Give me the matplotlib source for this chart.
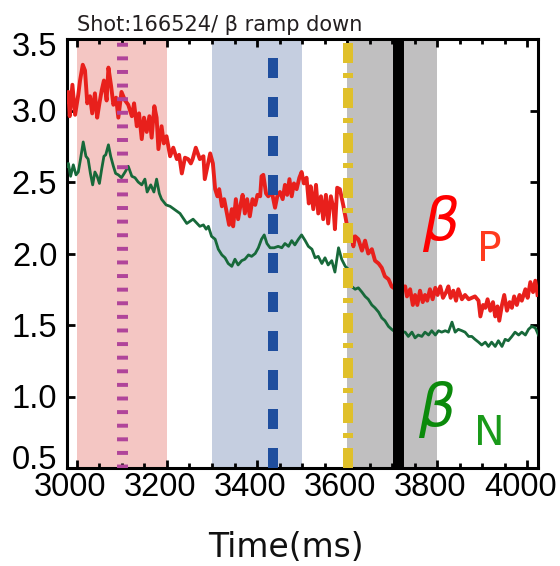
import matplotlib
matplotlib.use('Agg')
import matplotlib.pyplot as plt
from matplotlib.ticker import MultipleLocator
from matplotlib.transforms import ScaledTranslation

# beta_P trace (time in ms, value)
red_t = [2978, 2981, 2984, 2990, 2996, 3003, 3007, 3013, 3018, 3023, 3029, 3034,
         3040, 3045, 3050, 3055, 3060, 3066, 3070, 3076, 3081, 3087, 3092, 3099,
         3107, 3114, 3122, 3127, 3133, 3138, 3144, 3149, 3155, 3161, 3166, 3172,
         3177, 3181, 3188, 3193, 3199, 3207, 3214, 3222, 3227, 3233, 3240, 3247,
         3253, 3257, 3264, 3273, 3281, 3284, 3290, 3296, 3302, 3307, 3312, 3316,
         3322, 3327, 3333, 3338, 3344, 3347, 3353, 3358, 3364, 3368, 3373, 3378,
         3384, 3390, 3396, 3401, 3407, 3410, 3414, 3420, 3425, 3433, 3440, 3445,
         3451, 3457, 3462, 3467, 3472, 3477, 3482, 3488, 3494, 3499, 3504, 3510,
         3515, 3519, 3525, 3531, 3536, 3542, 3547, 3553, 3558, 3564, 3570, 3573,
         3578, 3584, 3592, 3599, 3607, 3614, 3618, 3625, 3633, 3640, 3647, 3655,
         3662, 3670, 3677, 3684, 3692, 3699, 3703, 3729, 3733, 3740, 3746, 3751,
         3756, 3762, 3768, 3773, 3778, 3784, 3790, 3796, 3801, 3807, 3813, 3820,
         3825, 3830, 3836, 3842, 3847, 3855, 3862, 3870, 3877, 3884, 3892, 3896,
         3902, 3907, 3912, 3918, 3924, 3929, 3934, 3938, 3944, 3949, 3955, 3961,
         3966, 3971, 3977, 3983, 3988, 3996, 4001, 4007, 4013, 4018, 4023]
red_v = [3.06, 3.13, 2.96, 3.18, 2.97, 3.11, 3.21, 3.32, 3.28, 3.05, 3.10, 2.98,
         3.12, 2.95, 3.05, 3.14, 3.21, 3.07, 3.30, 3.17, 3.04, 3.09, 2.95, 3.13,
         3.07, 3.04, 2.96, 3.05, 2.89, 2.98, 2.80, 2.95, 2.85, 2.96, 2.81, 3.03,
         2.95, 2.73, 2.89, 2.77, 2.82, 2.68, 2.74, 2.66, 2.69, 2.56, 2.67, 2.66,
         2.63, 2.66, 2.74, 2.66, 2.68, 2.52, 2.61, 2.70, 2.63, 2.45, 2.40, 2.45,
         2.33, 2.38, 2.28, 2.20, 2.31, 2.19, 2.38, 2.24, 2.35, 2.41, 2.28, 2.38,
         2.26, 2.38, 2.34, 2.41, 2.40, 2.54, 2.55, 2.42, 2.40, 2.43, 2.32, 2.40,
         2.43, 2.38, 2.48, 2.41, 2.52, 2.40, 2.49, 2.45, 2.53, 2.57, 2.49, 2.53,
         2.35, 2.47, 2.31, 2.48, 2.28, 2.40, 2.24, 2.41, 2.21, 2.40, 2.31, 2.17,
         2.46, 2.45, 2.33, 2.21, 2.17, 2.05, 2.12, 2.10, 2.02, 2.09, 2.00, 2.03,
         1.95, 1.93, 1.90, 1.84, 1.82, 1.77, 1.76, 1.77, 1.70, 1.75, 1.64, 1.71,
         1.64, 1.74, 1.66, 1.71, 1.67, 1.75, 1.68, 1.76, 1.71, 1.77, 1.69, 1.73,
         1.77, 1.69, 1.74, 1.67, 1.75, 1.68, 1.71, 1.68, 1.69, 1.70, 1.67, 1.56,
         1.64, 1.62, 1.68, 1.60, 1.66, 1.56, 1.63, 1.53, 1.64, 1.71, 1.60, 1.66,
         1.62, 1.70, 1.64, 1.71, 1.67, 1.75, 1.69, 1.80, 1.73, 1.81, 1.71]

# beta_N trace
green_t = [2978, 2981, 2986, 2992, 2998, 3003, 3008, 3014, 3020, 3025, 3030, 3035,
           3040, 3045, 3050, 3055, 3060, 3064, 3070, 3075, 3081, 3086, 3092, 3099,
           3107, 3114, 3122, 3129, 3136, 3144, 3151, 3156, 3164, 3171, 3177, 3183,
           3188, 3198, 3207, 3229, 3244, 3258, 3273, 3281, 3287, 3292, 3299, 3307,
           3314, 3322, 3329, 3336, 3344, 3351, 3358, 3366, 3373, 3381, 3388, 3396,
           3403, 3410, 3416, 3422, 3429, 3438, 3447, 3455, 3462, 3470, 3477, 3484,
           3492, 3499, 3507, 3514, 3522, 3529, 3536, 3544, 3551, 3558, 3566, 3573,
           3581, 3588, 3596, 3603, 3610, 3618, 3625, 3633, 3640, 3647, 3655, 3662,
           3670, 3677, 3684, 3692, 3699, 3703, 3729, 3736, 3744, 3751, 3758, 3766,
           3773, 3781, 3788, 3796, 3803, 3810, 3818, 3825, 3833, 3840, 3847, 3855,
           3862, 3870, 3877, 3884, 3892, 3899, 3907, 3914, 3921, 3929, 3936, 3944,
           3951, 3958, 3966, 3973, 3981, 3988, 3996, 4003, 4010, 4018, 4025]
green_v = [2.61, 2.63, 2.54, 2.62, 2.55, 2.57, 2.66, 2.78, 2.68, 2.66, 2.56, 2.48,
           2.57, 2.54, 2.49, 2.59, 2.68, 2.69, 2.76, 2.68, 2.61, 2.56, 2.55, 2.53,
           2.57, 2.61, 2.54, 2.53, 2.50, 2.48, 2.52, 2.43, 2.48, 2.43, 2.52, 2.42,
           2.38, 2.34, 2.33, 2.28, 2.21, 2.24, 2.19, 2.20, 2.17, 2.19, 2.12, 2.10,
           2.03, 1.99, 1.97, 1.93, 1.91, 1.96, 1.92, 1.95, 1.96, 1.99, 1.98, 2.00,
           2.04, 2.10, 2.13, 2.07, 2.04, 2.04, 2.05, 2.04, 2.07, 2.05, 2.09, 2.06,
           2.10, 2.13, 2.09, 2.05, 2.03, 1.97, 1.98, 1.93, 1.97, 1.92, 1.95, 1.87,
           2.04, 1.96, 1.91, 1.89, 1.77, 1.75, 1.76, 1.73, 1.70, 1.68, 1.64, 1.62,
           1.59, 1.55, 1.53, 1.49, 1.47, 1.46, 1.45, 1.42, 1.45, 1.41, 1.43, 1.42,
           1.45, 1.43, 1.46, 1.43, 1.46, 1.45, 1.46, 1.45, 1.52, 1.45, 1.47, 1.46,
           1.45, 1.42, 1.42, 1.40, 1.38, 1.36, 1.38, 1.35, 1.38, 1.35, 1.39, 1.35,
           1.40, 1.39, 1.42, 1.45, 1.43, 1.45, 1.43, 1.47, 1.49, 1.48, 1.43]

# shaded time windows and event markers (ms)
span_starts = [3000, 3300, 3600]
span_ends = [3200, 3500, 3800]
span_colors = ['#F4C6C3', '#C5CEE0', '#C0BFC0']
event_times = [3100, 3435, 3602, 3714]

title_text = 'Shot:166524/ \u03b2 ramp down'
tick_font = ['Liberation Sans', 'DejaVu Sans']

W, H = 560, 566
fig = plt.figure(figsize=(W / 100, H / 100), dpi=100)
ax = fig.add_axes([67 / W, 1 - 468 / H, (538 - 67) / W, (468 - 39) / H])

for x0, x1, c in zip(span_starts, span_ends, span_colors):
    ax.axvspan(x0, x1, color=c, lw=0, zorder=0)

ax.plot(red_t, red_v, color='#E8201C', lw=2.8, zorder=3)
ax.plot(green_t, green_v, color='#17693A', lw=2.0, zorder=3)

ax.axvline(event_times[0], color='#B0449A', lw=7.9,
           linestyle=(0, (0.36, 0.88)), dash_capstyle='butt', zorder=4)
ax.axvline(event_times[1], color='#1F4E9E', lw=7.2,
           linestyle=(0, (2.0, 1.9)), dash_capstyle='butt', zorder=4)
ax.axvline(event_times[2], color='#E0C02A', lw=7.2,
           linestyle=(0, (2.0, 1.0, 0.5, 1.0)), dash_capstyle='butt', zorder=4)
ax.axvline(event_times[3], color='black', lw=7.9, zorder=5)

ax.set_xlim(2978, 4024)
ax.set_ylim(0.5, 3.5)
ax.xaxis.set_major_locator(MultipleLocator(200))
ax.xaxis.set_minor_locator(MultipleLocator(50))
ax.yaxis.set_major_locator(MultipleLocator(0.5))
ax.yaxis.set_major_formatter(plt.FormatStrFormatter('%.1f'))
ax.tick_params(which='both', direction='in', top=True, right=True, width=2)
ax.tick_params(which='major', length=5.8, labelsize=23.5)
ax.tick_params(which='minor', length=3.6)
ax.tick_params(axis='x', pad=3)
ax.tick_params(axis='y', pad=7)
for sp in ax.spines.values():
    sp.set_linewidth(2.2)

# tick label font and the small offsets seen in the reference
xshift = ScaledTranslation(-7 / 100, 0, fig.dpi_scale_trans)
for lab in ax.get_xticklabels():
    lab.set_family(tick_font)
    lab.set_transform(lab.get_transform() + xshift)
for loc, lab in zip(ax.get_yticks(), ax.get_yticklabels()):
    lab.set_family(tick_font)
    if abs(loc - 0.5) < 1e-6:
        dy = 11
    elif abs(loc - 3.5) < 1e-6:
        dy = -5
    else:
        continue
    lab.set_transform(lab.get_transform()
                      + ScaledTranslation(0, dy / 100, fig.dpi_scale_trans))

fig.text(77 / W, 1 - 31 / H, title_text, fontsize=15, color='#231F20',
         va='baseline', ha='left', family='DejaVu Sans')
fig.text(286 / W, 1 - 557 / H, 'Time(ms)', fontsize=23.8, color='#111111',
         va='baseline', ha='center', family='DejaVu Sans')

# beta labels
fig.text(422 / W, 1 - 240 / H, '\u03b2', fontsize=42, color='#FF0000',
         style='italic', va='baseline', ha='left', family='DejaVu Sans')
fig.text(477 / W, 1 - 261 / H, 'P', fontsize=29.5, color='#FF3B1E',
         va='baseline', ha='left', family='DejaVu Sans')
fig.text(418 / W, 1 - 426 / H, '\u03b2', fontsize=42, color='#0B8A0B',
         style='italic', va='baseline', ha='left', family='DejaVu Sans')
fig.text(474 / W, 1 - 445 / H, 'N', fontsize=29.5, color='#1A9A1A',
         va='baseline', ha='left', family='DejaVu Sans')

fig.savefig('out.png', dpi=100)
